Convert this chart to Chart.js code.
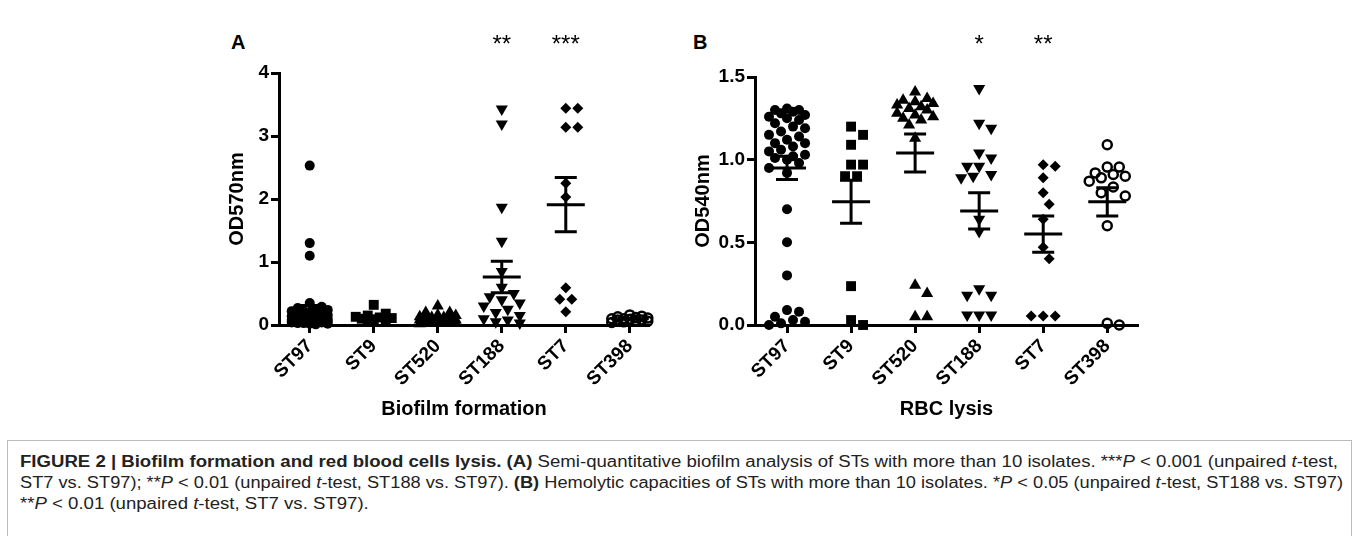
<!DOCTYPE html>
<html>
<head>
<meta charset="utf-8">
<script src="https://cdn.jsdelivr.net/npm/chart.js@4.4.1/dist/chart.umd.min.js"></script>
<style>
  body { margin: 0; background: #fff; width: 1359px; height: 536px; overflow: hidden; position: relative; font-family: "Liberation Sans", Arial, sans-serif; }
  .panel { position: absolute; top: 0; }
  .letter { position: absolute; font: bold 20px "Liberation Sans", Arial, sans-serif; color: #000; }
  #caption { position: absolute; left: 7px; top: 440px; width: 1345px; height: 110px; border: 1px solid #bbb; box-sizing: border-box; }
  #caption div { position: absolute; left: 12px; white-space: nowrap; font-size: 16px; color: #222; transform-origin: 0 50%; }
</style>
</head>
<body>
<div class="letter" style="left:231px;top:31px">A</div>
<div class="letter" style="left:693px;top:31px">B</div>
<canvas id="chartA" class="panel" style="left:221px" width="440" height="425"></canvas>
<canvas id="chartB" class="panel" style="left:687px" width="463" height="425"></canvas>
<div id="caption">
  <div style="top:12px"><b>FIGURE 2 | Biofilm formation and red blood cells lysis. (A)</b> Semi-quantitative biofilm analysis of STs with more than 10 isolates. ***<i>P</i> &lt; 0.001 (unpaired <i>t</i>-test,</div>
  <div style="top:33px">ST7 vs. ST97); **<i>P</i> &lt; 0.01 (unpaired <i>t</i>-test, ST188 vs. ST97). <b>(B)</b> Hemolytic capacities of STs with more than 10 isolates. *<i>P</i> &lt; 0.05 (unpaired <i>t</i>-test, ST188 vs. ST97)</div>
  <div style="top:54px">**<i>P</i> &lt; 0.01 (unpaired <i>t</i>-test, ST7 vs. ST97).</div>
</div>
<script>
const cats = ["ST97", "ST9", "ST520", "ST188", "ST7", "ST398"];

// biofilm formation, OD570nm
const biofilmST97 = [2.53, 1.30, 1.10, 0.35, 0.29, 0.27, 0.25, 0.24, 0.22, 0.22, 0.20, 0.19, 0.18, 0.18, 0.16, 0.15, 0.14, 0.14, 0.12, 0.12, 0.11, 0.10, 0.10, 0.09, 0.08, 0.08, 0.07, 0.07, 0.06, 0.06, 0.05, 0.05, 0.04, 0.04, 0.03, 0.03, 0.02, 0.02, 0.01];
const biofilmST9 = [0.32, 0.18, 0.15, 0.13, 0.12, 0.11, 0.10, 0.09, 0.08, 0.06];
const biofilmST520 = [0.30, 0.20, 0.20, 0.16, 0.15, 0.13, 0.12, 0.12, 0.11, 0.10, 0.09, 0.08, 0.08, 0.07, 0.06, 0.05, 0.05, 0.04, 0.03, 0.02];
const biofilmST188 = [3.43, 3.19, 1.87, 1.33, 0.85, 0.60, 0.50, 0.45, 0.40, 0.35, 0.30, 0.25, 0.20, 0.15, 0.10, 0.08, 0.05, 0.03];
const biofilmST7 = [3.44, 3.44, 3.14, 3.14, 2.25, 2.03, 0.59, 0.41, 0.41, 0.21];
const biofilmST398 = [0.16, 0.14, 0.13, 0.12, 0.11, 0.10, 0.10, 0.09, 0.08, 0.08, 0.07, 0.06, 0.05, 0.04];
const biofilmMean = [0.24, 0.12, 0.10, 0.76, 1.91, 0.10];
const biofilmSem = [0.07, 0.02, 0.02, 0.25, 0.43, 0.01];
const biofilmStars = ["", "", "", "**", "***", ""];
const biofilmTicks = [0, 1, 2, 3, 4];

// RBC lysis, OD540nm
const rbcST97 = [1.31, 1.30, 1.30, 1.29, 1.28, 1.27, 1.26, 1.25, 1.24, 1.22, 1.20, 1.19, 1.17, 1.15, 1.14, 1.12, 1.10, 1.10, 1.08, 1.06, 1.05, 1.03, 1.02, 1.01, 1.00, 0.98, 0.95, 0.92, 0.70, 0.50, 0.30, 0.09, 0.08, 0.05, 0.03, 0.02, 0.01, 0.00];
const rbcST9 = [1.20, 1.15, 1.09, 0.97, 0.97, 0.90, 0.90, 0.235, 0.03, 0.00];
const rbcST520 = [1.41, 1.37, 1.36, 1.35, 1.34, 1.33, 1.32, 1.31, 1.30, 1.28, 1.27, 1.26, 1.25, 1.24, 1.21, 1.13, 0.24, 0.19, 0.05, 0.05];
const rbcST188 = [1.43, 1.22, 1.19, 1.04, 1.01, 0.96, 0.96, 0.91, 0.90, 0.89, 0.64, 0.565, 0.22, 0.18, 0.18, 0.06, 0.06, 0.06];
const rbcST7 = [0.97, 0.96, 0.89, 0.80, 0.73, 0.64, 0.47, 0.40, 0.055, 0.055, 0.055];
const rbcST398 = [1.09, 0.955, 0.955, 0.92, 0.91, 0.90, 0.89, 0.87, 0.835, 0.80, 0.78, 0.60, 0.01, 0.00];
const rbcMean = [0.95, 0.745, 1.04, 0.69, 0.55, 0.745];
const rbcSem = [0.07, 0.13, 0.115, 0.11, 0.11, 0.085];
const rbcStars = ["", "", "", "*", "**", ""];
const rbcTicks = [0, 0.5, 1.0, 1.5];

const markers = [
  { pointStyle: "circle", radius: 5, fill: "#000", rotation: 0 },
  { pointStyle: "rect", radius: 7, fill: "#000", rotation: 0 },
  { pointStyle: "triangle", radius: 7, fill: "#000", rotation: 0 },
  { pointStyle: "triangle", radius: 7, fill: "#000", rotation: 180 },
  { pointStyle: "rectRot", radius: 5.5, fill: "#000", rotation: 0 },
  { pointStyle: "circle", radius: 4.5, fill: "rgba(0,0,0,0)", rotation: 0 }
];

// simple Prism-like scatter spreading, done in pixels then converted back
const PX_PER_CAT = 64;
function swarm(values, idx, pxPerUnit, diam, maxOff) {
  const placed = [];
  const step = diam / 2;
  return values.slice().sort((a, b) => b - a).map(v => {
    const y = v * pxPerUnit;
    let best = 0, bestScore = -1, done = false;
    for (let k = 0; k * step <= maxOff && !done; k++) {
      for (const s of (k === 0 ? [0] : [k * step, -k * step])) {
        let minD = Infinity;
        placed.forEach(p => { minD = Math.min(minD, Math.hypot(p.x - s, p.y - y)); });
        if (minD >= diam) { best = s; done = true; break; }
        if (minD > bestScore) { bestScore = minD; best = s; }
      }
    }
    placed.push({ x: best, y: y });
    return { x: idx + best / PX_PER_CAT, y: v };
  });
}

const boldFont = (size) => ({ family: "'Liberation Sans', Arial, sans-serif", size: size, weight: "bold" });

const meanSemPlugin = {
  id: "meanSem",
  afterDatasetsDraw(chart, args, opts) {
    const ctx = chart.ctx, xs = chart.scales.x, ys = chart.scales.y;
    ctx.save();
    ctx.strokeStyle = "#000";
    ctx.lineWidth = 3;
    opts.mean.forEach((m, i) => {
      const x = xs.getPixelForValue(i);
      const ym = ys.getPixelForValue(m);
      const yt = ys.getPixelForValue(m + opts.sem[i]);
      const yb = ys.getPixelForValue(m - opts.sem[i]);
      ctx.beginPath();
      ctx.moveTo(x - 19, ym); ctx.lineTo(x + 19, ym);
      ctx.moveTo(x, yt); ctx.lineTo(x, yb);
      ctx.moveTo(x - 11, yt); ctx.lineTo(x + 11, yt);
      ctx.moveTo(x - 11, yb); ctx.lineTo(x + 11, yb);
      ctx.stroke();
    });
    ctx.restore();
  }
};

const starsPlugin = {
  id: "stars",
  afterDraw(chart, args, opts) {
    const ctx = chart.ctx, xs = chart.scales.x;
    ctx.save();
    ctx.fillStyle = "#000";
    ctx.font = "24px 'Liberation Sans', Arial, sans-serif";
    ctx.textAlign = "center";
    ctx.textBaseline = "top";
    opts.labels.forEach((s, i) => { if (s) ctx.fillText(s, xs.getPixelForValue(i), 33); });
    ctx.restore();
  }
};

function makeChart(id, groups, mean, sem, stars, yTicks, yMax, yTitle, xTitle, xMin, xMax, pxPerUnit, pad, yWidth, decimals) {
  const datasets = groups.map((vals, i) => ({
    data: swarm(vals, i, pxPerUnit, 12, 20),
    pointStyle: markers[i].pointStyle,
    pointRadius: markers[i].radius,
    pointRotation: markers[i].rotation,
    pointBackgroundColor: markers[i].fill,
    pointBorderColor: "#000",
    pointBorderWidth: i === 5 ? 2.5 : 0,
    pointHoverRadius: markers[i].radius,
    clip: false
  }));
  return new Chart(document.getElementById(id), {
    type: "scatter",
    data: { datasets: datasets },
    plugins: [meanSemPlugin, starsPlugin],
    options: {
      responsive: false,
      animation: false,
      layout: { padding: pad },
      plugins: {
        legend: { display: false },
        tooltip: { enabled: false },
        meanSem: { mean: mean, sem: sem },
        stars: { labels: stars }
      },
      scales: {
        x: {
          type: "linear",
          min: xMin,
          max: xMax,
          afterBuildTicks: s => { s.ticks = cats.map((c, i) => ({ value: i })); },
          afterFit: s => { s.height = 100; },
          ticks: {
            callback: v => cats[v],
            autoSkip: false,
            minRotation: 45,
            maxRotation: 45,
            color: "#000",
            font: boldFont(19),
            padding: 2
          },
          grid: { drawOnChartArea: false, tickLength: 8, tickWidth: 3, tickColor: "#000" },
          border: { color: "#000", width: 3 },
          title: { display: true, text: xTitle, color: "#000", font: boldFont(20) }
        },
        y: {
          min: 0,
          max: yMax,
          afterBuildTicks: s => { s.ticks = yTicks.map(v => ({ value: v })); },
          afterFit: s => { s.width = yWidth; },
          ticks: {
            callback: v => v.toFixed(decimals),
            color: "#000",
            font: boldFont(19),
            padding: 2
          },
          grid: { drawOnChartArea: false, tickLength: 8, tickWidth: 3, tickColor: "#000" },
          border: { color: "#000", width: 3 },
          title: { display: true, text: yTitle, color: "#000", font: boldFont(20) }
        }
      }
    }
  });
}

makeChart("chartA",
  [biofilmST97, biofilmST9, biofilmST520, biofilmST188, biofilmST7, biofilmST398],
  biofilmMean, biofilmSem, biofilmStars, biofilmTicks, 4, "OD570nm", "Biofilm formation",
  -0.48, 5.3, 63, { top: 73, right: 12, left: 0, bottom: 0 }, 58, 0);

makeChart("chartB",
  [rbcST97, rbcST9, rbcST520, rbcST188, rbcST7, rbcST398],
  rbcMean, rbcSem, rbcStars, rbcTicks, 1.5, "OD540nm", "RBC lysis",
  -0.5, 5.48, 166.7, { top: 77, right: 12, left: 0, bottom: 0 }, 68, 1);

// stretch the two full caption lines to the printed width; the short last line keeps line 1's stretch
const capLines = document.querySelectorAll("#caption div");
const s1 = 1318 / capLines[0].getBoundingClientRect().width;
const s2 = 1323 / capLines[1].getBoundingClientRect().width;
capLines[0].style.transform = "scaleX(" + s1 + ")";
capLines[1].style.transform = "scaleX(" + s2 + ")";
capLines[2].style.transform = "scaleX(" + s1 + ")";
</script>
</body>
</html>
